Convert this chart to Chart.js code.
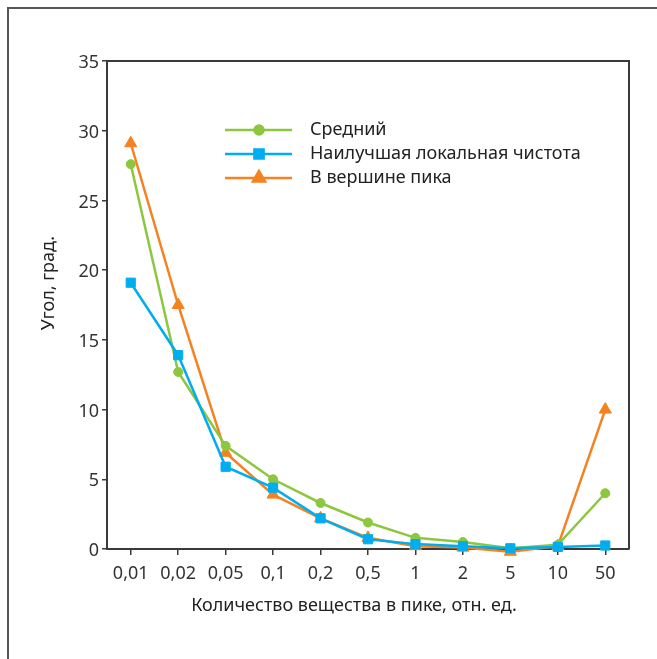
<!DOCTYPE html>
<html lang="ru">
<head>
    <meta charset="UTF-8">
    <title>Угол от количества вещества в пике</title>
    <script src="https://cdn.jsdelivr.net/npm/chart.js"></script>
    <style>
        body {
            margin: 0;
            padding: 0;
            background: #fff;
            font-family: "Noto Sans", sans-serif;
        }
        .frame {
            position: absolute;
            left: 7px;
            top: 7px;
            width: 700px;
            height: 700px;
            border-left: 2px solid #555;
            border-top: 2px solid #555;
        }
        .wrap {
            position: absolute;
            left: 0;
            top: 0;
            width: 657px;
            height: 659px;
        }
    </style>
</head>
<body>
    <div class="frame"></div>
    <div class="wrap">
        <canvas id="myChart"></canvas>
    </div>

    <script>
        // data
        var categories = ['0,01', '0,02', '0,05', '0,1', '0,2', '0,5', '1', '2', '5', '10', '50'];
        var seriesNames = ['Средний', 'Наилучшая локальная чистота', 'В вершине пика'];
        var average = [27.6, 12.7, 7.4, 5.0, 3.3, 1.9, 0.8, 0.5, 0.05, 0.3, 4.0];
        var bestPurity = [19.1, 13.9, 5.9, 4.4, 2.2, 0.7, 0.35, 0.2, 0.05, 0.15, 0.25];
        var peakTop = [29.1, 17.5, 6.9, 3.9, 2.2, 0.8, 0.2, 0.1, -0.2, 0.2, 10.0];
        var yTicks = [0, 5, 10, 15, 20, 25, 30, 35];

        var xTitle = 'Количество вещества в пике, отн. ед.';
        var yTitle = 'Угол, град.';
        var font = '"Noto Sans", sans-serif';
        var axisColor = '#3a3a3a';

        // frame on top/right and axis titles
        var framePlugin = {
            id: 'framePlugin',
            afterDraw: function(chart) {
                var c = chart.ctx, a = chart.chartArea;
                c.save();
                c.strokeStyle = axisColor;
                c.lineWidth = 2;
                c.beginPath();
                c.moveTo(a.left, a.top);
                c.lineTo(a.right, a.top);
                c.lineTo(a.right, a.bottom);
                c.stroke();

                c.fillStyle = '#222';
                c.font = '18px ' + font;
                c.textAlign = 'center';
                c.textBaseline = 'middle';
                c.fillText(xTitle, 354, 606);
                c.translate(49, 283);
                c.rotate(-Math.PI / 2);
                c.fillText(yTitle, 0, 0);
                c.restore();
            }
        };

        // legend drawn inside the plot area
        var innerLegend = {
            id: 'innerLegend',
            afterDatasetsDraw: function(chart) {
                var c = chart.ctx;
                c.save();
                seriesNames.forEach(function(name, i) {
                    var ds = chart.data.datasets.find(function(d) { return d.label === name; });
                    var y = 130 + i * 24;
                    c.strokeStyle = ds.borderColor;
                    c.fillStyle = ds.borderColor;
                    c.lineWidth = ds.borderWidth;
                    c.beginPath();
                    c.moveTo(225, y);
                    c.lineTo(292, y);
                    c.stroke();
                    Chart.helpers.drawPoint(c, {
                        pointStyle: ds.pointStyle,
                        radius: ds.pointRadius,
                        borderWidth: 1,
                        rotation: 0
                    }, 259, y);
                    c.fillStyle = '#222';
                    c.font = '18px ' + font;
                    c.textAlign = 'left';
                    c.textBaseline = 'middle';
                    c.fillText(ds.label, 310, y);
                });
                c.restore();
            }
        };

        function makeSet(label, data, color, style, radius, order) {
            return {
                label: label,
                data: data,
                borderColor: color,
                backgroundColor: color,
                pointBackgroundColor: color,
                pointBorderColor: color,
                borderWidth: 2.5,
                pointStyle: style,
                pointRadius: radius,
                pointBorderWidth: 1,
                tension: 0,
                clip: false,
                order: order
            };
        }

        var ctx = document.getElementById('myChart').getContext('2d');
        var myChart = new Chart(ctx, {
            type: 'line',
            data: {
                labels: categories,
                datasets: [
                    makeSet(seriesNames[0], average, '#8dc63f', 'circle', 4.5, 2),
                    makeSet(seriesNames[1], bestPurity, '#00aeef', 'rect', 6.5, 1),
                    makeSet(seriesNames[2], peakTop, '#f58220', 'triangle', 7, 3)
                ]
            },
            options: {
                responsive: true,
                maintainAspectRatio: false,
                animation: false,
                layout: { padding: { left: 0, top: 61, right: 28, bottom: 0 } },
                plugins: {
                    legend: { display: false },
                    tooltip: { enabled: false }
                },
                scales: {
                    x: {
                        type: 'category',
                        offset: true,
                        grid: { drawOnChartArea: false, tickLength: 6, color: axisColor, lineWidth: 1.5 },
                        border: { color: axisColor, width: 2 },
                        ticks: { color: '#333', font: { family: font, size: 18 }, padding: 8, maxRotation: 0, autoSkip: false },
                        afterFit: function(s) { s.height = 110; }
                    },
                    y: {
                        min: 0,
                        max: 35,
                        grid: { drawOnChartArea: false, tickLength: 5, color: axisColor, lineWidth: 1.5 },
                        border: { color: axisColor, width: 2 },
                        afterBuildTicks: function(s) {
                            s.ticks = yTicks.map(function(v) { return { value: v }; });
                        },
                        ticks: { color: '#333', font: { family: font, size: 18 }, padding: 3, labelOffset: 2 },
                        afterFit: function(s) { s.width = 107; }
                    }
                }
            },
            plugins: [framePlugin, innerLegend]
        });
    </script>
</body>
</html>
